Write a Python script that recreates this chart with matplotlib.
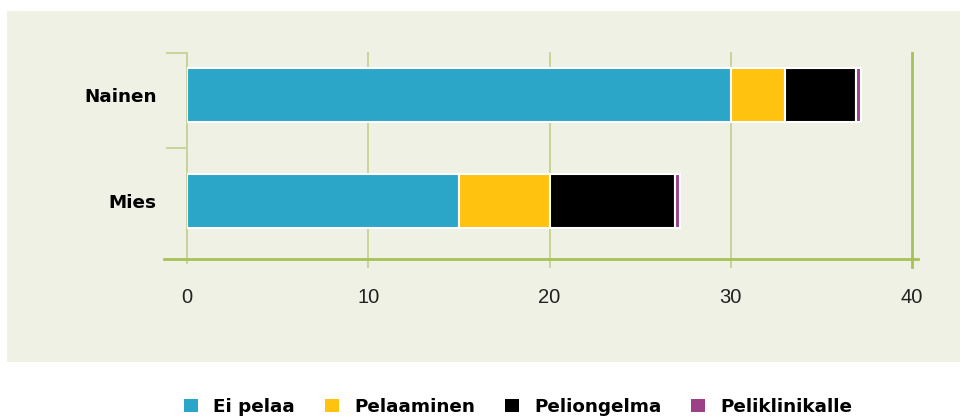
"""Stacked horizontal bar chart: pelaaminen sukupuolen mukaan."""

import matplotlib

matplotlib.use("Agg")
import matplotlib.pyplot as plt
from matplotlib.patches import Patch, Rectangle
import numpy as np

categories = ["Mies", "Nainen"]
series = ["Ei pelaa", "Pelaaminen", "Peliongelma", "Peliklinikalle"]
ei_pelaa = [15.0, 30.0]
pelaaminen = [5.0, 3.0]
peliongelma = [6.9, 3.9]
peliklinikalle = [0.3, 0.3]
values = [ei_pelaa, pelaaminen, peliongelma, peliklinikalle]
colors = ["#2ba5c8", "#ffc20f", "#000000", "#9c4187"]
xticks = [0, 10, 20, 30, 40]

BG = "#eef1e3"
GRID = "#c5d390"
AXIS = "#a6c256"

fig = plt.figure(figsize=(9.6, 4.18), dpi=100)
fig.patches.append(Rectangle((7 / 960, 1 - 362 / 418), 1, 351 / 418,
                             transform=fig.transFigure, facecolor=BG,
                             edgecolor="none", zorder=-10))

ax = fig.add_axes([187 / 960, 1 - 259 / 418, 725 / 960, 206 / 418])
ax.set_facecolor("none")

y = np.arange(len(categories))
left = np.zeros(len(categories))
for name, vals, col in zip(series, values, colors):
    ax.barh(y, vals, left=left, height=0.51, color=col, edgecolor="white",
            linewidth=1.5, label=name, zorder=3)
    left += np.array(vals)

ax.set_xlim(0, 40)
ax.set_ylim(-0.547, 1.396)

for s in ax.spines.values():
    s.set_visible(False)

# vertical grid lines, extending a bit below the axis
for xv in xticks:
    c = AXIS if xv == 40 else GRID
    lw = 2.0 if xv == 40 else 1.3
    ymin = -0.02 if xv == 0 else -0.04
    ax.axvline(xv, ymin=ymin, ymax=1, color=c, lw=lw, clip_on=False, zorder=1)
ax.axhline(-0.547, xmin=-0.032, xmax=1.008, color=AXIS, lw=2.0,
           clip_on=False, zorder=2)

ax.set_xticks(xticks)
ax.set_xticklabels([str(v) for v in xticks])
ax.tick_params(axis="x", length=0, pad=21, labelsize=14.5, labelcolor="#222222")
for lab in ax.get_xticklabels():
    lab.set_fontfamily("Liberation Sans")

ax.set_yticks(y)
ax.set_yticklabels(categories, fontfamily="DejaVu Sans", fontweight="bold",
                   fontsize=13.2)
ax.tick_params(axis="y", which="major", length=0, pad=22)
ax.set_yticks([0.5, 1.396], minor=True)
ax.tick_params(axis="y", which="minor", length=15, width=1.3, color=GRID)

handles = [Patch(facecolor=c, edgecolor="none", label=n)
           for n, c in zip(series, colors)]
fig.legend(handles=handles, loc="center", bbox_to_anchor=(0.540, 0.027),
           ncol=4, frameon=False, handlelength=0.76, handleheight=0.76,
           handletextpad=0.82, columnspacing=1.64,
           prop={"family": "DejaVu Sans", "weight": "bold", "size": 13.2})

fig.savefig("out.png", dpi=100, facecolor="white")
plt.close(fig)
